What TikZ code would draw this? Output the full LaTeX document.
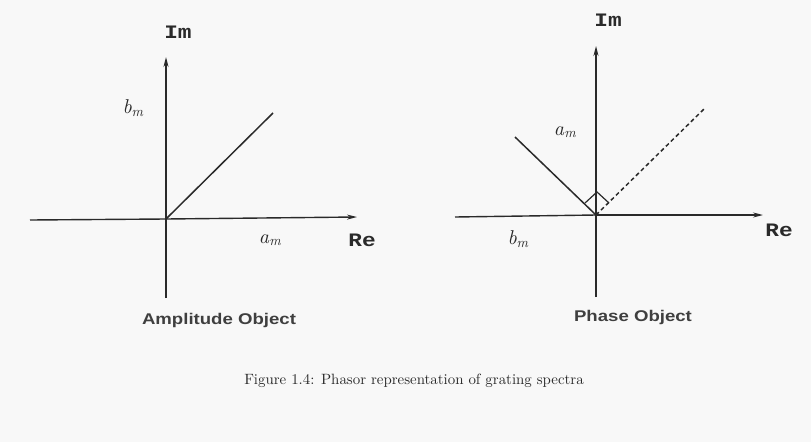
\documentclass[tikz,border=0pt]{standalone}
\usepackage{fontspec}
\setmainfont{lmroman10-regular.otf}[ItalicFont=lmroman10-italic.otf,BoldFont=lmroman10-bold.otf]
\newfontfamily\labsans[FakeStretch=1.2]{Liberation Sans}
\newfontfamily\axmono[FakeStretch=1.2]{Liberation Mono}
\usetikzlibrary{arrows.meta}
\definecolor{ink}{HTML}{2A2A2A}
\definecolor{paper}{HTML}{F8F8F8}
\newcommand\compsym[2]{\textit{#1}\raisebox{-0.3ex}{\fontsize{14}{14}\selectfont\textit{#2}}}
\tikzset{
  axis/.style={draw=ink, line width=1.4pt, -{Stealth[length=10pt,width=5pt]}},
  axisplain/.style={draw=ink, line width=1.4pt},
  phasor/.style={draw=ink, line width=1.5pt},
  dashphasor/.style={draw=ink, line width=1.5pt, dash pattern=on 4pt off 3pt},
  axlab/.style={font=\axmono\bfseries\fontsize{19}{21}\selectfont, text=ink, inner sep=0pt},
  comp/.style={font=\fontsize{20}{22}\selectfont, text=ink, inner sep=0pt},
  title/.style={font=\labsans\bfseries\fontsize{15.5}{18}\selectfont, text=ink!90, inner sep=0pt},
  caption/.style={font=\fontsize{14.9}{18}\selectfont, text=ink, inner sep=0pt}
}
\begin{document}
\begin{tikzpicture}[x=1pt,y=-1pt]
\path[fill=paper] (0,0) rectangle (811,442);
\useasboundingbox (0,0) rectangle (811,442);
% ---------- left diagram ----------
\coordinate (O1) at (166,219);
\coordinate (L1w) at (30,220);
\coordinate (L1e) at (357,217);
\coordinate (L1n) at (166,57);
\coordinate (L1s) at (166,298);
\coordinate (P1) at (273,113);
\draw[axisplain] (L1w) -- (O1);
\draw[axis] (O1) -- (L1e);
\draw[axis] (L1s) -- (L1n);
\draw[phasor] (O1) -- (P1);
\node[axlab] (im1) at (178,32) {Im};
\node[axlab] (re1) at (362,240) {Re};
\node[comp] (b1) at (133,108) {\compsym{b}{m}};
\node[comp] (a1) at (270,240) {\compsym{a}{m}};
\node[title] (t1) at (219,320) {Amplitude Object};
% ---------- right diagram ----------
\coordinate (O2) at (596,215);
\coordinate (L2w) at (455,217);
\coordinate (L2e) at (763,215);
\coordinate (L2n) at (596,46);
\coordinate (L2s) at (596,297);
\coordinate (P2) at (515,137);
\coordinate (Q2) at (705,108);
\draw[axisplain] (L2w) -- (O2);
\draw[axis] (O2) -- (L2e);
\draw[axis] (L2s) -- (L2n);
\draw[phasor] (O2) -- (P2);
\draw[dashphasor] (O2) -- (Q2);
\coordinate (R1) at (585,203);
\coordinate (Rc) at (597,192);
\coordinate (R2) at (609,203);
\draw[phasor, line width=1.2pt] (R1) -- (Rc) -- (R2);
\node[axlab] (im2) at (608,20) {Im};
\node[axlab] (re2) at (779,230) {Re};
\node[comp] (a2) at (565,132) {\compsym{a}{m}};
\node[comp] (b2) at (518,239) {\compsym{b}{m}};
\node[title] (t2) at (633,317) {Phase Object};
% ---------- caption ----------
\node[caption] (cap) at (414,381) {Figure 1.4: Phasor representation of grating spectra};
\end{tikzpicture}
\end{document}
